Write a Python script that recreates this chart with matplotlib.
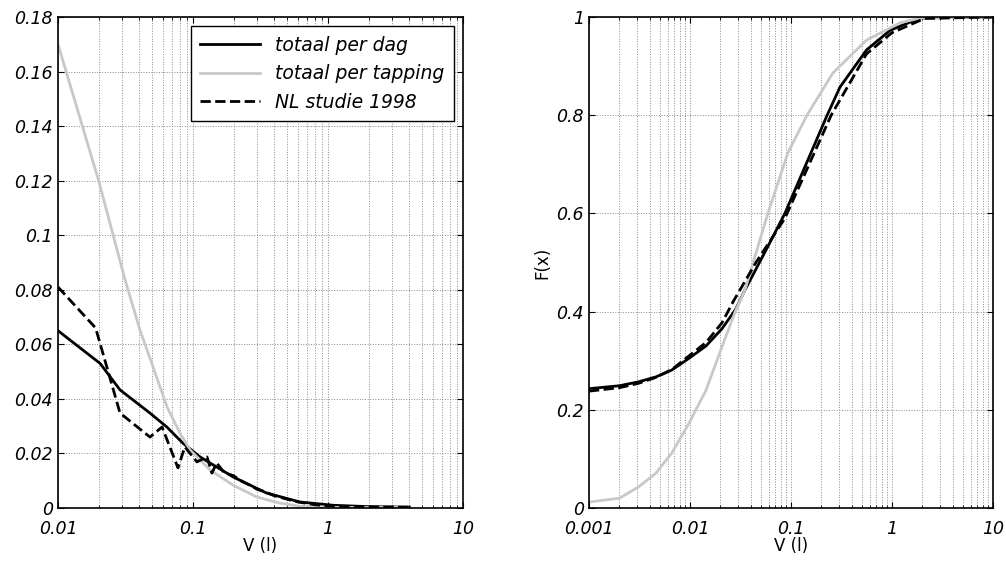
import numpy as np
import matplotlib.pyplot as plt
from matplotlib.ticker import FixedLocator, LogLocator, NullFormatter

# left panel: frequency per volume
dag_x = [0.01, 0.0205, 0.0288, 0.048, 0.064, 0.084, 0.113, 0.198, 0.35, 0.62, 1.09, 2.0, 4.0]
dag_y = [0.065, 0.053, 0.0433, 0.0348, 0.0297, 0.0238, 0.0187, 0.0114, 0.0055, 0.0022, 0.001, 0.0005, 0.0003]

tap_x = [0.01, 0.02, 0.0314, 0.0405, 0.0506, 0.0643, 0.080, 0.095, 0.134, 0.198, 0.297, 0.44, 0.62, 1.2, 3.85]
tap_y = [0.17, 0.12, 0.0836, 0.0652, 0.0517, 0.037, 0.0275, 0.0213, 0.0139, 0.0084, 0.004, 0.0018, 0.0006,
         0.0002, 0.0002]

nl_x = [0.01, 0.019, 0.0288, 0.048, 0.059, 0.0774, 0.087, 0.107, 0.127, 0.138, 0.15, 0.17, 0.2,
        0.23, 0.26, 0.3, 0.33, 0.4, 0.5, 0.6, 0.8, 1.0, 1.5, 4.0]
nl_y = [0.081, 0.066, 0.0348, 0.026, 0.0297, 0.0147, 0.0224, 0.0169, 0.0187, 0.0128, 0.0165, 0.013, 0.0118,
        0.0098, 0.0085, 0.0068, 0.0062, 0.0045, 0.0032, 0.0022, 0.0012, 0.0008, 0.0004, 0.0003]

# right panel: cumulative
cdag_x = [0.001, 0.002, 0.0031, 0.0046, 0.0066, 0.0098, 0.0144, 0.0207, 0.0284, 0.035, 0.0578,
          0.087, 0.228, 0.305, 0.56, 0.96, 1.9, 10]
cdag_y = [0.243, 0.249, 0.257, 0.267, 0.281, 0.305, 0.33, 0.365, 0.405, 0.444, 0.529,
          0.60, 0.80, 0.857, 0.933, 0.973, 0.998, 1.0]

cnl_x = [0.001, 0.002, 0.0031, 0.0046, 0.0066, 0.0098, 0.0144, 0.0207, 0.0267, 0.045, 0.087,
         0.25, 0.56, 1.0, 2.1, 10]
cnl_y = [0.238, 0.245, 0.254, 0.266, 0.282, 0.31, 0.337, 0.377, 0.42, 0.50, 0.59,
         0.80, 0.925, 0.968, 0.997, 1.0]

ctap_x = [0.001, 0.002, 0.0031, 0.0046, 0.0066, 0.0098, 0.0144, 0.0207, 0.0284, 0.035, 0.059,
          0.093, 0.144, 0.26, 0.56, 1.2, 1.9, 10]
ctap_y = [0.012, 0.02, 0.043, 0.071, 0.112, 0.173, 0.24, 0.328, 0.403, 0.444, 0.60,
          0.723, 0.80, 0.886, 0.953, 0.988, 0.998, 1.0]

tick_font = dict(family='DejaVu Sans', style='italic', size=12.5)
grey = '#c8c8c8'

fig = plt.figure(figsize=(10.06, 5.65), dpi=100)
ax1 = fig.add_axes([58/1006, 57/565, 405/1006, 491/565])
ax2 = fig.add_axes([589/1006, 57/565, 404/1006, 491/565])


def style(ax, xlim, ylim, yticks, ylabels):
    ax.set_xscale('log')
    ax.set_xlim(*xlim)
    ax.set_ylim(*ylim)
    ax.set_yticks(yticks)
    ax.set_yticklabels(ylabels, fontdict=tick_font)
    dec = np.arange(int(np.log10(xlim[0])), int(np.log10(xlim[1])) + 1)
    major = [10.0 ** d for d in dec]
    ax.xaxis.set_major_locator(FixedLocator(major))
    ax.set_xticklabels([('%g' % m) for m in major], fontdict=tick_font)
    ax.xaxis.set_minor_locator(LogLocator(base=10, subs=np.arange(2, 10)))
    ax.xaxis.set_minor_formatter(NullFormatter())
    ax.grid(True, which='both', color='#8a8a8a', linestyle=':', linewidth=0.7)
    ax.tick_params(which='both', direction='in', top=True, right=True, length=4)
    ax.tick_params(which='minor', length=2)
    ax.tick_params(axis='x', pad=9)
    for s in ax.spines.values():
        s.set_linewidth(1.2)
    ax.set_xlabel('V (l)', fontsize=12, labelpad=-1)


ax1.plot(dag_x, dag_y, color='black', lw=2, label='totaal per dag')
ax1.plot(tap_x, tap_y, color=grey, lw=2, label='totaal per tapping')
ax1.plot(nl_x, nl_y, color='black', lw=2, ls='--', label='NL studie 1998')
style(ax1, (0.01, 10), (0, 0.18), np.arange(0, 0.181, 0.02),
      ['0', '0.02', '0.04', '0.06', '0.08', '0.1', '0.12', '0.14', '0.16', '0.18'])
leg = ax1.legend(loc='upper right', prop=dict(family='DejaVu Sans', style='italic', size=13.5),
                 fancybox=False, edgecolor='black', framealpha=1, handlelength=3.2,
                 borderaxespad=0.5, labelspacing=0.5, borderpad=0.5)
leg.get_frame().set_linewidth(1)

ax2.plot(cdag_x, cdag_y, color='black', lw=2)
ax2.plot(ctap_x, ctap_y, color=grey, lw=2)
ax2.plot(cnl_x, cnl_y, color='black', lw=2, ls='--')
style(ax2, (0.001, 10), (0, 1), np.arange(0, 1.01, 0.2),
      ['0', '0.2', '0.4', '0.6', '0.8', '1'])
ax2.set_ylabel('F(x)', fontsize=12)

fig.savefig('out.png', dpi=100)
